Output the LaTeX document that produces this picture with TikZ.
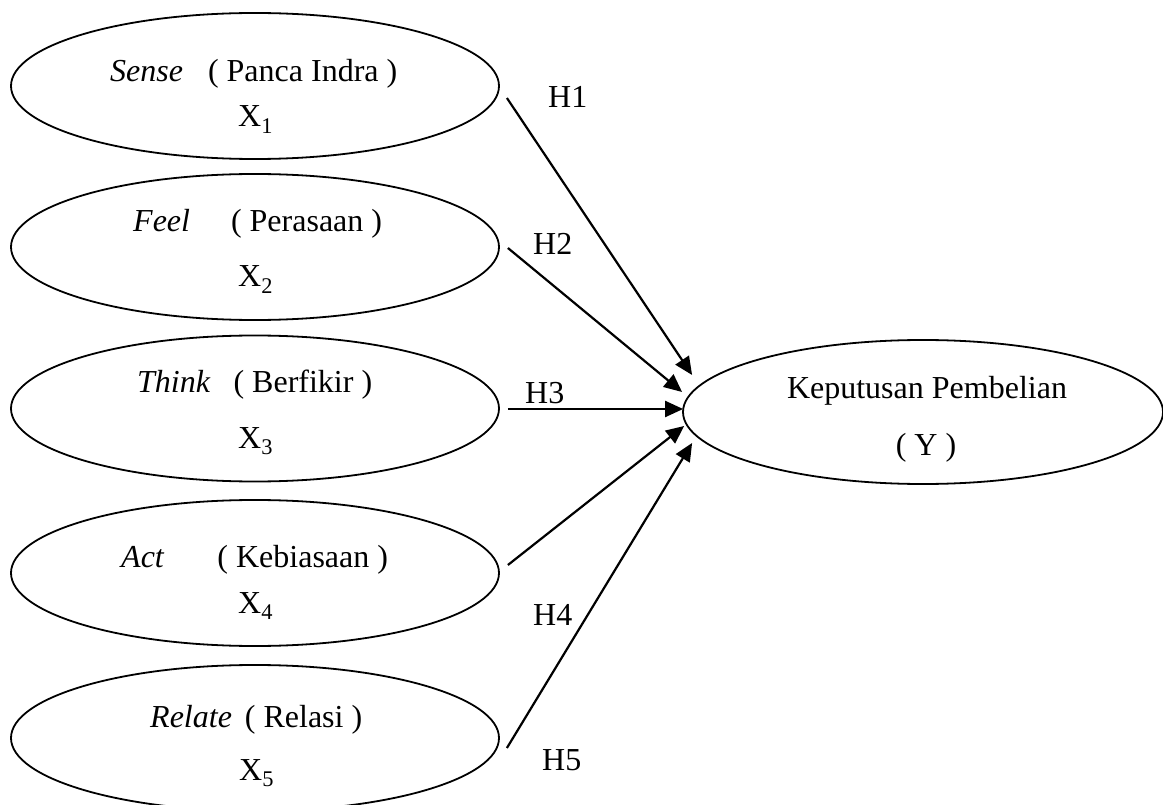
\documentclass[tikz,border=0pt]{standalone}
\usepackage{fontspec}
\setmainfont{Liberation Serif}
\usetikzlibrary{shapes.geometric,arrows.meta,calc}
\begin{document}
\begin{tikzpicture}[x=1pt,y=-1pt,
  oval/.style={draw,ellipse,line width=1.8pt,inner sep=0pt,minimum width=488pt,minimum height=146pt},
  lbl/.style={font=\fontsize{32}{38}\selectfont,inner sep=0pt,anchor=base west},
  lblc/.style={font=\fontsize{32}{38}\selectfont,inner sep=0pt,anchor=base},
  arr/.style={line width=2.2pt,-{Triangle[length=18pt,width=16pt]}}]
\useasboundingbox (0,0) rectangle (1163,805);
\fill[white] (0,0) rectangle (1163,805);
% left ellipses
\node[oval] (e1) at (255,86) {};
\node[oval] (e2) at (255,247) {};
\node[oval] (e3) at (255,408.5) {};
\node[oval] (e4) at (255,573) {};
\node[oval] (e5) at (255,738) {};
\node[oval,minimum width=480pt,minimum height=144pt] (y) at (923,412) {};
% texts
\node[lbl] (t1a) at (110,82) {\textit{Sense}\hspace{25pt}( Panca Indra )};
\node[lbl] (t1b) at (238,127) {X\textsubscript{1}};
\node[lbl] (t2a) at (133,232) {\textit{Feel}\hspace{41pt}( Perasaan )};
\node[lbl] (t2b) at (238,287) {X\textsubscript{2}};
\node[lbl] (t3a) at (137,392) {\textit{Think}\hspace{23pt}( Berfikir )};
\node[lbl] (t3b) at (238,448) {X\textsubscript{3}};
\node[lbl] (t4a) at (121,567) {\textit{Act}\hspace{53pt}( Kebiasaan )};
\node[lbl] (t4b) at (238,613) {X\textsubscript{4}};
\node[lbl] (t5a) at (150,727) {\textit{Relate}\hspace{13pt}( Relasi )};
\node[lbl] (t5b) at (239,780) {X\textsubscript{5}};
\node[lblc] (ya) at (927,398) {Keputusan Pembelian};
\node[lblc] (yb) at (926,455) {( Y )};
% hypothesis labels
\node[lbl] (h1) at (548,108) {H1};
\node[lbl] (h2) at (533,255) {H2};
\node[lbl] (h3) at (525,403) {H3};
\node[lbl] (h4) at (533,625) {H4};
\node[lbl] (h5) at (542,770) {H5};
% connectors
\draw[arr] ($(e1.east)+(7,12)$) -- ($(y.west)+(10,-37)$);
\draw[arr] ($(e2.east)+(8,1)$) -- ($(y.west)+(0,-20)$);
\draw[arr] ($(e3.east)+(8,0.5)$) -- ($(y.west)+(1,-3)$);
\draw[arr] ($(e4.east)+(8,-8)$) -- ($(y.west)+(2,14)$);
\draw[arr] ($(e5.east)+(7,10)$) -- ($(y.west)+(10,31)$);
\end{tikzpicture}
\end{document}
